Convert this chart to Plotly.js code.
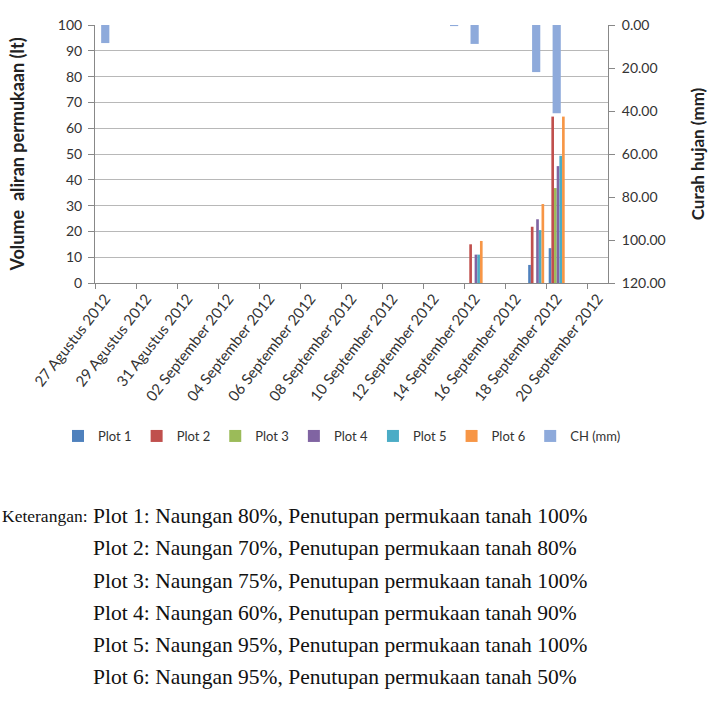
<!DOCTYPE html>
<html>
<head>
<meta charset="utf-8">
<script src="https://cdn.plot.ly/plotly-3.0.1.min.js"></script>
<style>
html, body { margin: 0; padding: 0; background: #ffffff; }
#chart { width: 714px; height: 704px; }
</style>
</head>
<body>
<div id="chart"></div>
<script>
// ---- data ----
const dates = [
  "27 Agustus 2012", "28 Agustus 2012", "29 Agustus 2012", "30 Agustus 2012", "31 Agustus 2012",
  "01 September 2012", "02 September 2012", "03 September 2012", "04 September 2012", "05 September 2012",
  "06 September 2012", "07 September 2012", "08 September 2012", "09 September 2012", "10 September 2012",
  "11 September 2012", "12 September 2012", "13 September 2012", "14 September 2012", "15 September 2012",
  "16 September 2012", "17 September 2012", "18 September 2012", "19 September 2012", "20 September 2012"
];
const plot1 = [0,0,0,0,0, 0,0,0,0,0, 0,0,0,0,0, 0,0,0,0,0, 0,7,13.5,0,0];
const plot2 = [0,0,0,0,0, 0,0,0,0,0, 0,0,0,0,0, 0,0,0,15,0, 0,21.8,64.5,0,0];
const plot3 = [0,0,0,0,0, 0,0,0,0,0, 0,0,0,0,0, 0,0,0,0,0, 0,0,36.8,0,0];
const plot4 = [0,0,0,0,0, 0,0,0,0,0, 0,0,0,0,0, 0,0,0,11,0, 0,24.7,45.3,0,0];
const plot5 = [0,0,0,0,0, 0,0,0,0,0, 0,0,0,0,0, 0,0,0,11,0, 0,20.5,49.3,0,0];
const plot6 = [0,0,0,0,0, 0,0,0,0,0, 0,0,0,0,0, 0,0,0,16.3,0, 0,30.6,64.5,0,0];
const curahHujan = [8.4,0,0,0,0, 0,0,0,0,0, 0,0,0,0,0, 0,0,0.5,8.8,0, 0,21.9,41,0,0];

const seriesNames = ["Plot 1", "Plot 2", "Plot 3", "Plot 4", "Plot 5", "Plot 6"];
const seriesValues = [plot1, plot2, plot3, plot4, plot5, plot6];
const seriesColors = ["#4F81BD", "#C0504D", "#9BBB59", "#8064A2", "#4BACC6", "#F79646"];
const chName = "CH (mm)";
const chColor = "#8EAADB";

const keteranganLabel = "Keterangan:";
const keterangan = [
  "Plot 1: Naungan 80%, Penutupan permukaan tanah 100%",
  "Plot 2: Naungan 70%, Penutupan permukaan tanah 80%",
  "Plot 3: Naungan 75%, Penutupan permukaan tanah 100%",
  "Plot 4: Naungan 60%, Penutupan permukaan tanah 90%",
  "Plot 5: Naungan 95%, Penutupan permukaan tanah 100%",
  "Plot 6: Naungan 95%, Penutupan permukaan tanah 50%"
];

// ---- traces ----
const barW = 0.13;
const traces = seriesNames.map((name, i) => ({
  type: "bar",
  name: name,
  x: dates,
  y: seriesValues[i],
  width: barW,
  offset: -3 * barW + i * barW,
  marker: { color: seriesColors[i], line: { width: 0 } },
  xaxis: "x",
  yaxis: "y"
}));
traces.push({
  type: "bar",
  name: chName,
  x: dates,
  y: curahHujan,
  width: 0.4,
  offset: -0.2,
  marker: { color: chColor, line: { width: 0 } },
  xaxis: "x",
  yaxis: "y2"
});

const sans = "Lato, 'Open Sans', sans-serif";
const axisFont = { family: sans, size: 14, color: "#333333" };
const xTickFont = { family: sans, size: 15, color: "#333333" };
const titleFont = { family: sans, size: 18, color: "#222222", weight: "bold" };

// paper coordinate helpers from pixel positions
const plotL = 95, plotR = 608, plotT = 25, plotB = 283;
const px2x = p => (p - plotL) / (plotR - plotL);
const px2y = p => (plotB - p) / (plotB - plotT);

const lineYs = [516, 548, 580.5, 612.5, 645, 677];
const serif = { family: "'Liberation Serif', 'DejaVu Serif', serif", size: 21.5, color: "#111111" };
const annotations = keterangan.map((t, i) => ({
  xref: "paper", yref: "paper",
  x: px2x(91), y: px2y(lineYs[i]),
  xanchor: "left", yanchor: "middle",
  text: t, showarrow: false, font: serif
}));
annotations.push({
  xref: "paper", yref: "paper",
  x: px2x(90), y: px2y(lineYs[0]),
  xanchor: "right", yanchor: "middle",
  text: keteranganLabel, showarrow: false,
  font: Object.assign({}, serif, { size: 17.5 })
});

const layout = {
  width: 714, height: 704,
  margin: { l: plotL, r: 714 - plotR, t: plotT, b: 704 - plotB, pad: 0 },
  paper_bgcolor: "#ffffff",
  plot_bgcolor: "#ffffff",
  barmode: "overlay",
  showlegend: true,
  font: axisFont,
  xaxis: {
    type: "category",
    categoryorder: "array",
    categoryarray: dates,
    range: [-0.5, dates.length - 0.5],
    tickmode: "linear", tick0: 0, dtick: 2,
    tickson: "boundaries",
    ticks: "outside", ticklen: 5, tickcolor: "#888888",
    tickangle: -52,
    showgrid: false,
    showline: true, linecolor: "#888888", linewidth: 1,
    tickfont: xTickFont,
    zeroline: false
  },
  yaxis: {
    range: [0, 100],
    tickmode: "linear", tick0: 0, dtick: 10,
    ticks: "outside", ticklen: 6, tickcolor: "#888888",
    ticklabelstandoff: 3,
    showgrid: true, gridcolor: "#b8b8b8", gridwidth: 1,
    showline: true, linecolor: "#888888", linewidth: 1,
    zeroline: false,
    tickfont: axisFont,
    title: { text: "Volume\u00a0 aliran permukaan (lt)", font: titleFont, standoff: 28 }
  },
  yaxis2: {
    overlaying: "y", side: "right",
    range: [120, 0],
    tickmode: "linear", tick0: 0, dtick: 20,
    tickformat: ".2f",
    ticks: "outside", ticklen: 6, tickcolor: "#888888",
    ticklabelstandoff: 4,
    showgrid: false,
    showline: true, linecolor: "#888888", linewidth: 1,
    zeroline: false,
    tickfont: axisFont,
    title: { text: "Curah hujan (mm)", font: Object.assign({}, titleFont, { size: 17 }), standoff: 27 }
  },
  legend: {
    orientation: "h",
    x: px2x(58), xanchor: "left",
    y: px2y(436), yanchor: "middle",
    font: { family: sans, size: 13, color: "#333333" },
    bgcolor: "rgba(0,0,0,0)",
    itemwidth: 30,
    traceorder: "normal"
  },
  annotations: annotations
};

Plotly.newPlot("chart", traces, layout, { displayModeBar: false, staticPlot: true });
</script>
</body>
</html>
